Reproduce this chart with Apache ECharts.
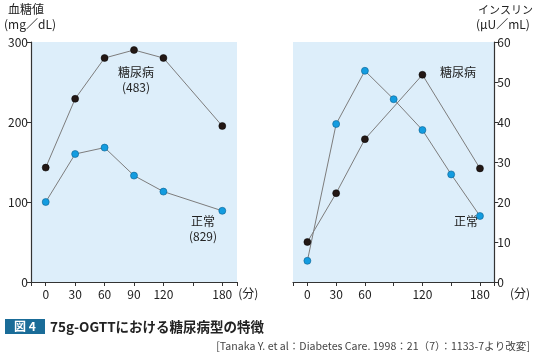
<!DOCTYPE html>
<html><head><meta charset="utf-8">
<script src="https://cdn.jsdelivr.net/npm/echarts@6/dist/echarts.min.js"></script>
<style>html,body{margin:0;padding:0;background:#fff}#c{width:533px;height:355px}</style>
</head><body><div id="c"></div>
<script>
// Blood glucose (mg/dL)
const glucoseTimes = [0, 30, 60, 90, 120, 180];
const glucoseDiabetes = [143, 229, 280, 290, 280, 195];
const glucoseNormal = [100, 160, 168, 133, 113, 89];
// Insulin (μU/mL)
const insulinDiabetesTimes = [0, 30, 60, 120, 180];
const insulinDiabetes = [10, 22.2, 35.7, 51.8, 28.4];
const insulinNormalTimes = [0, 30, 60, 90, 120, 150, 180];
const insulinNormal = [5.3, 39.5, 52.8, 45.7, 38, 26.9, 16.5];
// tick labels
const leftXTicks = [-15, 0, 30, 60, 90, 120, 150, 180, 195];
const leftXLabels = [0, 30, 60, 90, 120, 180];
const rightXTicks = [-15, 0, 30, 60, 90, 120, 150, 180, 195];
const rightXLabels = [0, 30, 60, 120, 180];

const FONT = '"Noto Sans CJK JP", "Noto Sans", sans-serif';
const BLACK = '#231815', BLUE = '#139ce0', LINE = '#7d7d7d', AX = '#333';
const pair = (xs, ys) => xs.map((x, i) => [x, ys[i]]);

const xAxisBase = (gi, ticks, labels) => ({
  type: 'value', gridIndex: gi, min: -15, max: 195,
  axisLine: { show: true, onZero: false, lineStyle: { color: AX, width: 1.2 } },
  axisTick: { show: true, customValues: ticks, length: 4, inside: false, lineStyle: { color: AX } },
  axisLabel: { customValues: labels, color: '#222', fontSize: 12, fontFamily: FONT, margin: 6 },
  splitLine: { show: false },
  name: '(分)', nameLocation: 'end', nameGap: 1,
  nameTextStyle: { color: '#222', fontSize: 12, fontFamily: FONT, verticalAlign: 'top', padding: [5, 0, 0, 0] }
});
const yAxisBase = (gi, max, interval, pos) => ({
  type: 'value', gridIndex: gi, min: 0, max: max, interval: interval, position: pos,
  axisLine: { show: true, onZero: false, lineStyle: { color: AX, width: 1.2 } },
  axisTick: { show: true, length: 4, lineStyle: { color: AX } },
  axisLabel: { color: '#222', fontSize: 12, fontFamily: FONT, margin: 3 },
  splitLine: { show: false }
});

const option = {
  animation: false,
  textStyle: { fontFamily: FONT },
  grid: [
    { left: 31, right: 296, top: 42, bottom: 73, show: true, backgroundColor: '#ddeefa', borderWidth: 0 },
    { left: 293, right: 32, top: 42, bottom: 73, show: true, backgroundColor: '#ddeefa', borderWidth: 0 }
  ],
  xAxis: [xAxisBase(0, leftXTicks, leftXLabels), xAxisBase(1, rightXTicks, rightXLabels)],
  yAxis: [yAxisBase(0, 300, 100, 'left'), yAxisBase(1, 60, 10, 'right')],
  series: [
    { type: 'line', xAxisIndex: 0, yAxisIndex: 0, data: pair(glucoseTimes, glucoseDiabetes),
      symbol: 'circle', symbolSize: 7, lineStyle: { color: LINE, width: 1 },
      itemStyle: { color: BLACK, borderColor: '#000', borderWidth: 0.5 } },
    { type: 'line', xAxisIndex: 0, yAxisIndex: 0, data: pair(glucoseTimes, glucoseNormal),
      symbol: 'circle', symbolSize: 7, lineStyle: { color: LINE, width: 1 },
      itemStyle: { color: BLUE, borderColor: '#0b5f8e', borderWidth: 0.6 } },
    { type: 'line', xAxisIndex: 1, yAxisIndex: 1, data: pair(insulinDiabetesTimes, insulinDiabetes),
      symbol: 'circle', symbolSize: 7, lineStyle: { color: LINE, width: 1 },
      itemStyle: { color: BLACK, borderColor: '#000', borderWidth: 0.5 } },
    { type: 'line', xAxisIndex: 1, yAxisIndex: 1, data: pair(insulinNormalTimes, insulinNormal),
      symbol: 'circle', symbolSize: 7, lineStyle: { color: LINE, width: 1 },
      itemStyle: { color: BLUE, borderColor: '#0b5f8e', borderWidth: 0.6 } }
  ],
  graphic: [
    { type: 'text', left: 8, top: 3, style: { text: '血糖値', font: '12px ' + FONT, fill: '#222' } },
    { type: 'text', left: 4, top: 18, style: { text: '(mg／dL)', font: '12px ' + FONT, fill: '#222' } },
    { type: 'text', left: 478, top: 4, style: { text: 'インスリン', font: '11px ' + FONT, fill: '#222' } },
    { type: 'text', left: 476, top: 18, style: { text: '(μU／mL)', font: '12px ' + FONT, fill: '#222' } },
    { type: 'text', x: 136, y: 72, style: { text: '糖尿病', font: '12px ' + FONT, fill: '#222', align: 'center', verticalAlign: 'middle' } },
    { type: 'text', x: 136, y: 87, style: { text: '(483)', font: '12px ' + FONT, fill: '#222', align: 'center', verticalAlign: 'middle' } },
    { type: 'text', x: 203, y: 221, style: { text: '正常', font: '12px ' + FONT, fill: '#222', align: 'center', verticalAlign: 'middle' } },
    { type: 'text', x: 203, y: 236, style: { text: '(829)', font: '12px ' + FONT, fill: '#222', align: 'center', verticalAlign: 'middle' } },
    { type: 'text', x: 458, y: 72, style: { text: '糖尿病', font: '12px ' + FONT, fill: '#222', align: 'center', verticalAlign: 'middle' } },
    { type: 'text', x: 466, y: 221, style: { text: '正常', font: '12px ' + FONT, fill: '#222', align: 'center', verticalAlign: 'middle' } },
    { type: 'rect', shape: { x: 5, y: 319, width: 40, height: 15 }, style: { fill: '#1a6c98' } },
    { type: 'text', x: 25, y: 326.5, style: { text: '図 4', font: 'bold 12px ' + FONT, fill: '#fff', align: 'center', verticalAlign: 'middle' } },
    { type: 'text', x: 50, y: 326.5, style: { text: '75g-OGTTにおける糖尿病型の特徴', font: 'bold 13.5px ' + FONT, fill: '#222', align: 'left', verticalAlign: 'middle' } },
    { type: 'text', x: 530, y: 346, style: { text: '[Tanaka Y. et al：Diabetes Care. 1998：21（7）：1133-7より改変]', font: '10.6px ' + FONT, fill: '#444', align: 'right', verticalAlign: 'middle' } }
  ]
};
echarts.init(document.getElementById('c')).setOption(option);
</script></body></html>
